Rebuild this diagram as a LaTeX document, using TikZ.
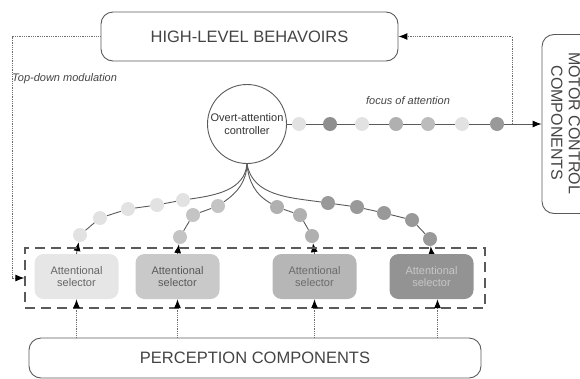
\documentclass[tikz,border=0pt]{standalone}
\usepackage{fontspec}
\setmainfont{Liberation Sans}
\usetikzlibrary{arrows.meta,backgrounds}
\definecolor{edge}{HTML}{5A5A5A}
\definecolor{txt}{HTML}{444444}
\definecolor{dotc}{HTML}{6E6E6E}
\definecolor{gA}{HTML}{E2E2E2}
\definecolor{gB}{HTML}{C4C4C4}
\definecolor{gC}{HTML}{B0B0B0}
\definecolor{gD}{HTML}{999999}
\definecolor{sA}{HTML}{E6E6E6}
\definecolor{sB}{HTML}{C9C9C9}
\definecolor{sC}{HTML}{B6B6B6}
\definecolor{sD}{HTML}{939393}
\begin{document}
\begin{tikzpicture}[x=1pt,y=-1pt,
  bigbox/.style={draw=edge, line width=0.9pt, rounded corners=12pt, inner sep=0pt, text=txt,
    font=\fontsize{16.5}{18}\selectfont},
  selbox/.style={rounded corners=9pt, minimum width=84pt, minimum height=45pt, inner sep=0pt,
    align=center, font=\fontsize{11}{12}\selectfont},
  bead/.style={circle, minimum size=14pt, inner sep=0pt},
  link/.style={draw=edge, line width=0.9pt},
  dotline/.style={draw=dotc, line width=1pt, dash pattern=on 0.9pt off 0.9pt},
  tip/.style={-{Latex[length=9pt,width=7pt,color=black]}},
  rtip/.style={{Latex[length=9pt,width=7pt,color=black]}-},
  lbl/.style={font=\fontsize{11}{13}\selectfont\itshape, text=txt}
  ]
\useasboundingbox (0,0) rectangle (580,378);

% main boxes
\node[bigbox, minimum width=297pt, minimum height=49pt] (hl) at (249.5,36.5) {HIGH-LEVEL BEHAVOIRS};
\node[bigbox, minimum width=54pt, minimum height=179pt] (motor) at (569,124) {};
\node[rotate=-90, align=center, text=txt, font=\fontsize{16}{17.5}\selectfont] (motortxt) at (565.5,123) {MOTOR CONTROL\\COMPONENTS};
\node[bigbox, minimum width=452pt, minimum height=40pt] (perc) at (255,358) {PERCEPTION COMPONENTS};

% controller
\node[draw=edge, line width=0.9pt, circle, minimum size=79pt, inner sep=0pt, align=center,
  text=black!80, font=\fontsize{11}{13}\selectfont] (ctl) at (247,124) {Overt-attention\\controller};

% selector frame and selectors
\node[draw=edge, line width=1.3pt, dash pattern=on 10pt off 6pt, minimum width=460pt,
  minimum height=60pt, inner sep=0pt] (frame) at (255,278) {};
\node[selbox, fill=sA, text=black!60] (sel1) at (76.5,276.5) {Attentional\\selector};
\node[selbox, fill=sB, text=black!65] (sel2) at (177.5,276.5) {Attentional\\selector};
\node[selbox, fill=sC, text=black!58] (sel3) at (314.5,276.5) {Attentional\\selector};
\node[selbox, fill=sD, text=black!22] (sel4) at (431.5,276.5) {Attentional\\selector};

% labels
\node[lbl, anchor=west, inner sep=0pt] (tdm) at (12,79) {Top-down modulation};
\node[lbl, inner sep=0pt] (foa) at (408,101) {focus of attention};

% focus-of-attention beads
\node[bead, fill=gA] (f1) at (299,124) {};
\node[bead, fill=gD!110] (f2) at (330,124) {};
\node[bead, fill=gA] (f3) at (362,124) {};
\node[bead, fill=gC] (f4) at (396,124) {};
\node[bead, fill=gC!85] (f5) at (428,124) {};
\node[bead, fill=gA] (f6) at (462,124) {};
\node[bead, fill=gD] (f7) at (497,124) {};
\coordinate (tap) at (512,124);

% chain 1
\node[bead, fill=gA] (a1) at (183,200) {};
\node[bead, fill=gA] (a2) at (157,205) {};
\node[bead, fill=gA] (a3) at (128,209) {};
\node[bead, fill=gA] (a4) at (100,218) {};
\node[bead, fill=gA] (a5) at (80,235) {};
% chain 2
\node[bead, fill=gB] (b1) at (218,206) {};
\node[bead, fill=gB] (b2) at (193,215) {};
\node[bead, fill=gB] (b3) at (180,237) {};
% chain 3
\node[bead, fill=gC] (c1) at (277,207) {};
\node[bead, fill=gC] (c2) at (300,215) {};
\node[bead, fill=gC] (c3) at (312,236) {};
% chain 4
\node[bead, fill=gD] (d1) at (328,203) {};
\node[bead, fill=gD] (d2) at (357,207) {};
\node[bead, fill=gD] (d3) at (384,213) {};
\node[bead, fill=gD] (d4) at (412,220) {};
\node[bead, fill=gD] (d5) at (430,239) {};

\coordinate (lc) at (12,278);

\begin{scope}[on background layer]
  % focus line
  \draw[link, tip] (ctl.east) -- (f1) -- (f2) -- (f3) -- (f4) -- (f5) -- (f6) -- (f7) -- (motor.west);
  % chains
  \draw[link, rtip] (ctl.south) to[out=-95,in=8] (a1) -- (a2) -- (a3) -- (a4) -- (a5) -- (sel1.north);
  \draw[link, rtip] (ctl.south) to[out=-92,in=35] (b1) -- (b2) -- (b3) -- (sel2.north);
  \draw[link, rtip] (ctl.south) to[out=-85,in=150] (c1) -- (c2) -- (c3) -- (sel3.north);
  \draw[link, rtip] (ctl.south) to[out=-80,in=172] (d1) -- (d2) -- (d3) -- (d4) -- (d5) -- (sel4.north);
\end{scope}

% dotted feedback paths
\draw[dotline, tip] (tap) |- (hl.east);
\draw[dotline, tip] (hl.west) -| (lc) -- (frame.west);

% perception to selectors
\draw[dotline, tip] (sel1.south |- perc.north) -- (sel1.south);
\draw[dotline, tip] (sel2.south |- perc.north) -- (sel2.south);
\draw[dotline, tip] (sel3.south |- perc.north) -- (sel3.south);
\draw[dotline, tip] ([xshift=6pt]sel4.south |- perc.north) -- ([xshift=6pt]sel4.south);
\end{tikzpicture}
\end{document}
